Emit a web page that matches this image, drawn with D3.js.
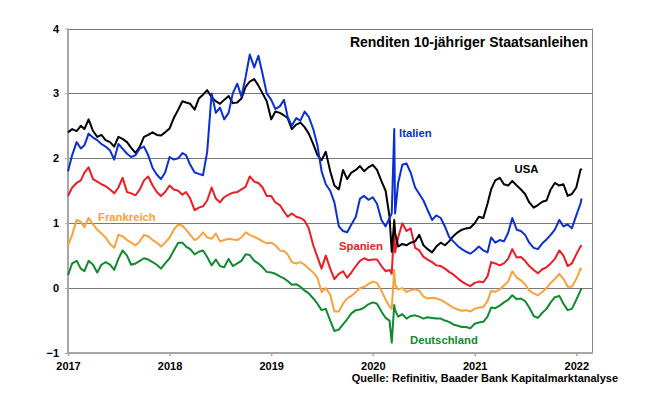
<!DOCTYPE html>
<html>
<head>
<meta charset="utf-8">
<script src="https://cdn.jsdelivr.net/npm/d3@7"></script>
<style>
  html, body { margin: 0; padding: 0; background: #fff; }
  svg { display: block; font-family: Arial, "Liberation Sans", sans-serif; }
</style>
</head>
<body>
<svg id="chart" width="653" height="398"></svg>
<script>
// ---- data (semi-monthly readings, plus extra points in March 2020) ----
const dates = [
"2017-01-01","2017-01-16","2017-02-01","2017-02-16","2017-03-01","2017-03-16","2017-04-01","2017-04-16","2017-05-01","2017-05-16","2017-06-01","2017-06-16","2017-07-01","2017-07-16","2017-08-01","2017-08-16","2017-09-01","2017-09-16","2017-10-01","2017-10-16","2017-11-01","2017-11-16","2017-12-01","2017-12-16",
"2018-01-01","2018-01-16","2018-02-01","2018-02-16","2018-03-01","2018-03-16","2018-04-01","2018-04-16","2018-05-01","2018-05-16","2018-06-01","2018-06-16","2018-07-01","2018-07-16","2018-08-01","2018-08-16","2018-09-01","2018-09-16","2018-10-01","2018-10-16","2018-11-01","2018-11-16","2018-12-01","2018-12-16",
"2019-01-01","2019-01-16","2019-02-01","2019-02-16","2019-03-01","2019-03-16","2019-04-01","2019-04-16","2019-05-01","2019-05-16","2019-06-01","2019-06-16","2019-07-01","2019-07-16","2019-08-01","2019-08-16","2019-09-01","2019-09-16","2019-10-01","2019-10-16","2019-11-01","2019-11-16","2019-12-01","2019-12-16",
"2020-01-01","2020-01-16","2020-02-01","2020-02-16","2020-03-01","2020-03-09","2020-03-18","2020-03-21","2020-04-01","2020-04-16","2020-05-01","2020-05-16","2020-06-01","2020-06-16","2020-07-01","2020-07-16","2020-08-01","2020-08-16","2020-09-01","2020-09-16","2020-10-01","2020-10-16","2020-11-01","2020-11-16","2020-12-01","2020-12-16",
"2021-01-01","2021-01-16","2021-02-01","2021-02-16","2021-03-01","2021-03-16","2021-04-01","2021-04-16","2021-05-01","2021-05-16","2021-06-01","2021-06-16","2021-07-01","2021-07-16","2021-08-01","2021-08-16","2021-09-01","2021-09-16","2021-10-01","2021-10-16","2021-11-01","2021-11-16","2021-12-01","2021-12-16",
"2022-01-01","2022-01-16","2022-01-20"
];

const usa = [
2.40,2.45,2.42,2.50,2.45,2.60,2.42,2.33,2.36,2.28,
2.25,2.18,2.33,2.30,2.25,2.16,2.08,2.18,2.33,2.36,
2.40,2.36,2.35,2.40,2.46,2.62,2.75,2.88,2.86,2.84,
2.75,2.92,2.98,3.05,2.94,2.88,2.84,2.90,2.96,2.85,
2.86,2.92,3.10,3.18,3.22,3.12,3.00,2.88,2.60,2.72,
2.70,2.66,2.62,2.45,2.52,2.55,2.48,2.38,2.22,2.05,
1.97,2.10,1.80,1.58,1.52,1.82,1.68,1.78,1.82,1.88,
1.80,1.86,1.90,1.82,1.65,1.50,1.10,
0.56,1.05,0.85,
0.64,0.68,0.66,0.70,0.72,0.82,0.66,0.60,0.55,0.64,
0.70,0.66,0.72,0.80,0.86,0.90,0.92,0.93,1.00,1.10,
1.08,1.30,1.52,1.66,1.70,1.60,1.58,1.65,1.58,1.52,
1.45,1.32,1.24,1.28,1.33,1.35,1.52,1.62,1.58,1.60,
1.42,1.45,1.55,1.82,
1.84];

const italien = [
1.80,2.05,2.25,2.15,2.20,2.38,2.32,2.28,2.22,2.18,
2.12,1.98,2.22,2.15,2.07,2.02,2.05,2.15,2.18,2.05,
1.85,1.75,1.68,1.78,2.02,1.98,2.00,2.08,2.05,1.90,
1.78,1.76,1.74,2.10,3.00,2.70,2.78,2.60,2.70,3.00,
3.15,2.95,3.25,3.60,3.40,3.58,3.30,3.00,2.90,2.76,
2.80,2.90,2.64,2.50,2.62,2.58,2.72,2.64,2.45,2.20,
1.80,1.60,1.50,1.32,0.95,0.88,0.86,0.98,1.10,1.38,
1.42,1.36,1.40,1.30,1.05,0.95,1.08,
1.15,2.45,1.15,
1.62,1.90,1.92,1.78,1.55,1.45,1.35,1.20,1.05,1.12,
1.08,0.95,0.79,0.72,0.65,0.60,0.56,0.53,0.58,0.64,
0.58,0.55,0.78,0.70,0.74,0.72,0.85,1.08,0.90,0.88,
0.82,0.70,0.62,0.60,0.69,0.75,0.82,0.90,1.05,0.95,
0.98,0.92,1.12,1.30,
1.38];

const spanien = [
1.42,1.55,1.62,1.66,1.78,1.86,1.68,1.64,1.60,1.57,
1.52,1.46,1.55,1.70,1.48,1.46,1.43,1.52,1.66,1.72,
1.58,1.48,1.42,1.48,1.58,1.52,1.50,1.44,1.48,1.38,
1.20,1.24,1.26,1.35,1.55,1.38,1.32,1.40,1.44,1.47,
1.48,1.52,1.56,1.72,1.64,1.62,1.55,1.42,1.42,1.32,
1.28,1.18,1.10,1.15,1.10,1.08,1.04,0.92,0.66,0.48,
0.30,0.50,0.30,0.14,0.22,0.26,0.16,0.24,0.34,0.42,
0.46,0.43,0.44,0.44,0.34,0.26,0.28,
0.22,0.95,0.55,
0.78,1.00,0.88,0.92,0.62,0.58,0.48,0.44,0.40,0.35,
0.34,0.30,0.25,0.21,0.15,0.10,0.06,0.03,0.08,0.10,
0.09,0.18,0.40,0.38,0.35,0.38,0.45,0.60,0.47,0.48,
0.42,0.34,0.28,0.23,0.29,0.32,0.38,0.45,0.58,0.50,
0.34,0.38,0.52,0.64,
0.66];

const frankreich = [
0.66,0.82,1.05,1.02,0.94,1.08,0.98,0.90,0.84,0.78,
0.68,0.62,0.82,0.80,0.74,0.70,0.66,0.72,0.82,0.80,
0.74,0.70,0.64,0.70,0.78,0.90,0.98,0.96,0.90,0.82,
0.74,0.78,0.86,0.78,0.76,0.84,0.72,0.74,0.76,0.75,
0.74,0.78,0.86,0.82,0.79,0.76,0.72,0.69,0.70,0.66,
0.58,0.57,0.52,0.40,0.38,0.40,0.36,0.30,0.24,0.16,
-0.06,0.00,-0.10,-0.36,-0.36,-0.24,-0.16,-0.12,-0.06,0.00,
0.02,0.06,0.10,0.08,-0.04,-0.18,-0.28,
-0.32,0.28,0.05,
-0.02,0.00,-0.06,-0.03,-0.02,-0.04,-0.13,-0.16,-0.15,-0.16,
-0.18,-0.22,-0.26,-0.30,-0.33,-0.35,-0.34,-0.36,-0.32,-0.30,
-0.29,-0.20,-0.04,-0.06,-0.02,0.04,0.10,0.26,0.16,0.12,
0.06,-0.04,-0.08,-0.11,-0.06,0.00,0.08,0.14,0.22,0.14,
0.02,0.02,0.14,0.30,
0.28];

const deutschland = [
0.20,0.38,0.42,0.30,0.26,0.42,0.36,0.24,0.36,0.40,
0.36,0.28,0.45,0.58,0.50,0.36,0.38,0.42,0.46,0.44,
0.40,0.36,0.30,0.38,0.46,0.58,0.70,0.70,0.64,0.60,
0.52,0.56,0.58,0.48,0.35,0.44,0.34,0.32,0.45,0.34,
0.38,0.42,0.52,0.51,0.42,0.38,0.32,0.25,0.24,0.22,
0.18,0.15,0.11,0.05,0.06,0.02,-0.04,-0.08,-0.16,-0.24,
-0.34,-0.32,-0.50,-0.66,-0.64,-0.56,-0.48,-0.39,-0.34,-0.33,
-0.30,-0.25,-0.22,-0.24,-0.36,-0.46,-0.50,
-0.84,-0.26,-0.34,
-0.44,-0.40,-0.47,-0.43,-0.42,-0.44,-0.47,-0.45,-0.46,-0.47,
-0.47,-0.50,-0.52,-0.56,-0.58,-0.60,-0.60,-0.62,-0.55,-0.53,
-0.52,-0.44,-0.30,-0.31,-0.27,-0.22,-0.18,-0.11,-0.17,-0.16,
-0.20,-0.30,-0.43,-0.46,-0.38,-0.32,-0.22,-0.14,-0.12,-0.24,
-0.34,-0.32,-0.18,-0.04,
0.00];

const seriesNames = ["Deutschland","Frankreich","Spanien","USA","Italien"];
const seriesColors = ["#0f8a2e","#f9a13c","#ec1c24","#000000","#0a2fd4"];
const yTicks = [-1, 0, 1, 2, 3, 4];
const xTickYears = ["2017","2018","2019","2020","2021","2022"];
const titleText = "Renditen 10-jähriger Staatsanleihen";
const sourceText = "Quelle: Refinitiv, Baader Bank Kapitalmarktanalyse";

// ---- drawing ----
const parse = d3.timeParse("%Y-%m-%d");
const dateObjs = dates.map(parse);
const valuesByName = {
  "USA": usa, "Italien": italien, "Spanien": spanien,
  "Frankreich": frankreich, "Deutschland": deutschland
};

const svg = d3.select("#chart");
const plot = { left: 68, right: 592, top: 28.5, bottom: 353 };

const x = d3.scaleTime()
  .domain([parse("2017-01-01"), parse("2022-01-01")])
  .range([plot.left, 576.3]);
const y = d3.scaleLinear().domain([-1, 4]).range([plot.bottom, plot.top]);

svg.append("rect").attr("width", 653).attr("height", 398).attr("fill", "#fff");

// gridlines
svg.append("g").selectAll("line").data(yTicks.filter(d => d > -1))
  .join("line")
  .attr("x1", plot.left).attr("x2", plot.right)
  .attr("y1", d => Math.round(y(d)) + 0.5).attr("y2", d => Math.round(y(d)) + 0.5)
  .attr("stroke", "#7a7a7a").attr("stroke-width", 1);

// right border
svg.append("line")
  .attr("x1", plot.right + 0.5).attr("x2", plot.right + 0.5)
  .attr("y1", plot.top).attr("y2", plot.bottom)
  .attr("stroke", "#8a8a8a").attr("stroke-width", 1);

// y axis
const yAxis = d3.axisLeft(y).tickValues(yTicks).tickFormat(d3.format("d"))
  .tickSize(3).tickPadding(6);
const gy = svg.append("g").attr("transform", `translate(${plot.left},0)`).call(yAxis);
gy.select(".domain").attr("stroke", "#a6a6a6").attr("stroke-width", 2)
  .attr("d", `M0,${plot.top}V${plot.bottom}`);
gy.selectAll(".tick line").attr("stroke", "#a6a6a6");
gy.selectAll(".tick text").attr("font-size", 11).attr("font-weight", "bold")
  .attr("fill", "#000").attr("font-family", "Arial, 'Liberation Sans', sans-serif");

// x axis
const xAxis = d3.axisBottom(x)
  .tickValues(xTickYears.map(s => parse(s + "-01-01")))
  .tickFormat(d3.timeFormat("%Y")).tickSize(3).tickPadding(6);
const gx = svg.append("g").attr("transform", `translate(0,${plot.bottom})`).call(xAxis);
gx.select(".domain").attr("stroke", "#a6a6a6").attr("stroke-width", 2)
  .attr("d", `M${plot.left - 1},0H${plot.right + 1}`);
gx.selectAll(".tick line").attr("stroke", "#a6a6a6").attr("stroke-width", 1.5);
gx.selectAll(".tick text").attr("font-size", 11).attr("font-weight", "bold")
  .attr("fill", "#000").attr("font-family", "Arial, 'Liberation Sans', sans-serif");

// lines
const line = d3.line()
  .x((d, i) => x(dateObjs[i]))
  .y(d => y(d));

svg.append("g").selectAll("path").data(seriesNames)
  .join("path")
  .attr("d", n => line(valuesByName[n]))
  .attr("fill", "none")
  .attr("stroke", (n, i) => seriesColors[i])
  .attr("stroke-width", 2)
  .attr("stroke-linejoin", "round");

// title
svg.append("text").attr("x", 588).attr("y", 46.5)
  .attr("text-anchor", "end").attr("font-size", 14).attr("font-weight", "bold")
  .text(titleText);

// series labels
const labelPos = {
  "Italien": [399, 136.5], "USA": [514.5, 172.5], "Spanien": [339, 249.5],
  "Frankreich": [98, 221], "Deutschland": [410, 344]
};
svg.append("g").selectAll("text").data(seriesNames)
  .join("text")
  .attr("x", n => labelPos[n][0]).attr("y", n => labelPos[n][1])
  .attr("font-size", 11.3).attr("font-weight", "bold")
  .attr("fill", (n, i) => seriesColors[i])
  .text(n => n);

// source
svg.append("text").attr("x", 618).attr("y", 382)
  .attr("text-anchor", "end").attr("font-size", 11).attr("font-weight", "bold")
  .text(sourceText);
</script>
</body>
</html>
